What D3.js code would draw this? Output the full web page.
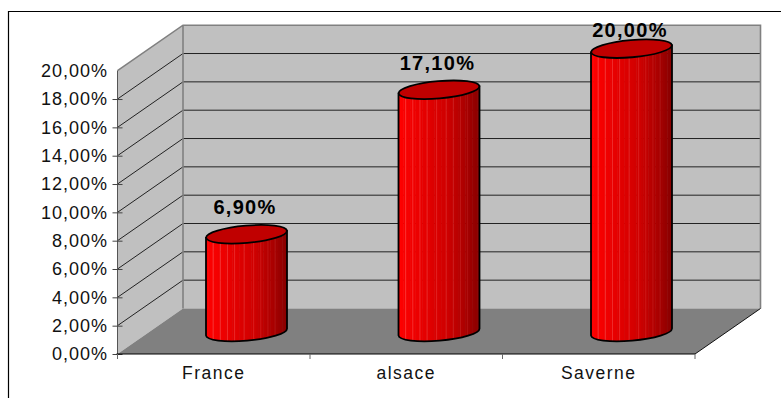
<!DOCTYPE html>
<html>
<head>
<meta charset="utf-8">
<script src="https://cdn.jsdelivr.net/npm/d3@7/dist/d3.min.js"></script>
<style>
  html, body { margin: 0; padding: 0; background: #fff; }
  svg { display: block; }
  text { font-family: "Liberation Sans", Arial, sans-serif; fill: #111; }
</style>
</head>
<body>
<svg id="chart" width="781" height="398"></svg>
<script>
const categories = ["France", "alsace", "Saverne"];
const percentages = [6.9, 17.1, 20];
const axisTicks = [0, 2, 4, 6, 8, 10, 12, 14, 16, 18, 20];

const svg = d3.select("#chart");
const frontLeft = 117.5, frontRight = 695, frontBottom = 354, frontTop = 70.7;
const depth = { x: 65.5, y: -45.5 };      // offset of the back wall from the front plane
const barPlane = { x: 32.75, y: -22 };    // offset of the cylinder axes
const radiusX = 40.5, radiusY = 8.6, tilt = -5;
const labelCeiling = 37;                  // data labels stay inside the plot top

const x = d3.scaleBand().domain(categories).range([frontLeft, frontRight]);
const y = d3.scaleLinear().domain([0, 20]).range([frontBottom, frontTop]);

const decimal = d3.formatLocale({ decimal: ",", thousands: " ", grouping: [3], currency: ["", ""] });
const pct = v => decimal.format(".2f")(v) + "%";
const pts = a => a.map(p => p.join(",")).join(" ");

// Chart frame: only the top and left rules are visible
svg.append("path").attr("d", "M8.5,398V11.5H781").attr("fill", "none").attr("stroke", "#000").attr("stroke-width", 1.2);

// Walls and floor
const backBottom = frontBottom + depth.y, backTop = frontTop + depth.y;
const backLeft = frontLeft + depth.x, backRight = frontRight + depth.x;
svg.append("polygon").attr("fill", "#c0c0c0")
  .attr("points", pts([[frontLeft, frontBottom], [frontLeft, frontTop], [backLeft, backTop], [backLeft, backBottom]]));
svg.append("rect").attr("fill", "#c0c0c0")
  .attr("x", backLeft).attr("y", backTop).attr("width", backRight - backLeft).attr("height", backBottom - backTop);
svg.append("polygon").attr("fill", "#808080")
  .attr("points", pts([[frontLeft, frontBottom], [backLeft, backBottom], [backRight, backBottom], [frontRight, frontBottom]]));

// Gridlines across the side and back walls
const grid = svg.append("g").attr("fill", "none").attr("stroke", "#222").attr("stroke-width", 1);
grid.selectAll("path").data(axisTicks.filter(t => t > 0 && t < 20)).join("path")
  .attr("d", t => `M${frontLeft},${y(t)}L${backLeft},${y(t) + depth.y}H${backRight}`);

// Wall outlines
svg.append("path").attr("fill", "none").attr("stroke", "#808080").attr("stroke-width", 1.6)
  .attr("d", `M${frontLeft},${frontTop}L${backLeft},${backTop}H${backRight}V${backBottom}M${backLeft},${backTop}V${backBottom}`);
svg.append("line").attr("stroke", "#111").attr("stroke-width", 1)
  .attr("x1", frontRight).attr("y1", frontBottom).attr("x2", backRight).attr("y2", backBottom);
svg.append("line").attr("stroke", "#555").attr("stroke-width", 1)
  .attr("x1", frontLeft).attr("y1", frontBottom).attr("x2", frontLeft).attr("y2", frontTop);

// Value axis
const yAxis = svg.append("g").attr("transform", `translate(${frontLeft},0)`)
  .call(d3.axisLeft(y).tickValues(axisTicks).tickFormat(pct).tickSize(5).tickPadding(4.5));
yAxis.select(".domain").remove();
yAxis.selectAll(".tick line").attr("x2", -5).attr("x1", 5).attr("stroke", "#444");
yAxis.selectAll(".tick").filter(d => d === 20).select("line").remove();
yAxis.selectAll("text")
  .attr("font-size", 18).attr("letter-spacing", 1).attr("fill", "#111");

// Category axis
const xAxis = svg.append("g").attr("transform", `translate(0,${frontBottom})`)
  .call(d3.axisBottom(x).tickSize(0).tickPadding(13));
xAxis.select(".domain").remove();
xAxis.selectAll("text")
  .attr("font-size", 17.5).attr("letter-spacing", 1.5).attr("fill", "#111");
svg.append("line").attr("stroke", "#000").attr("stroke-width", 1.2)
  .attr("x1", frontLeft - 1).attr("x2", frontRight).attr("y1", frontBottom).attr("y2", frontBottom);
svg.append("g").selectAll("line")
  .data([...categories.map(c => x(c)), frontRight]).join("line")
  .attr("stroke", "#666")
  .attr("x1", d => d).attr("x2", d => d).attr("y1", frontBottom).attr("y2", frontBottom + 5);

// Cylinders
const shade = d3.scaleLinear()
  .domain([0, 0.3, 0.6, 0.85, 1])
  .range(["#ff0000", "#e60000", "#cf0000", "#a80000", "#8a0000"]);
const stripCount = 34;
const highlights = [3, 6, 9, 12, 16, 20, 23, 26, 29];
const defs = svg.append("defs");
const tiltRad = tilt * Math.PI / 180;
const edgeRise = radiusX * Math.sin(-tiltRad);

const bars = svg.append("g").selectAll("g").data(categories).join("g");
bars.each(function (c, i) {
  const g = d3.select(this);
  const cx = x(c) + x.bandwidth() / 2 + barPlane.x;
  const topY = y(percentages[i]) + barPlane.y;
  const baseY = y(0) + barPlane.y;
  const left = cx - radiusX, right = cx + radiusX;
  const body = `M${left},${topY + edgeRise}L${left},${baseY + edgeRise}` +
    `A${radiusX},${radiusY} ${tilt} 0 0 ${right},${baseY - edgeRise}` +
    `L${right},${topY - edgeRise}Z`;
  defs.append("clipPath").attr("id", `cyl${i}`).append("path").attr("d", body);
  const strips = g.append("g").attr("clip-path", `url(#cyl${i})`);
  const sw = (right - left) / stripCount;
  strips.selectAll("rect").data(d3.range(stripCount)).join("rect")
    .attr("x", k => left + k * sw).attr("width", sw + 0.5)
    .attr("y", topY - 12).attr("height", baseY - topY + 30)
    .attr("fill", k => shade(k / (stripCount - 1)));
  strips.selectAll("line").data(highlights).join("line")
    .attr("x1", k => left + k * sw).attr("x2", k => left + k * sw)
    .attr("y1", topY - 12).attr("y2", baseY + 20)
    .attr("stroke", "#ff8a8a").attr("stroke-opacity", k => 0.5 - k * 0.012).attr("stroke-width", 0.8);
  g.append("path").attr("d", body).attr("fill", "none").attr("stroke", "#000").attr("stroke-width", 1.8);
  g.append("ellipse").attr("cx", cx).attr("cy", topY).attr("rx", radiusX).attr("ry", radiusY)
    .attr("transform", `rotate(${tilt} ${cx} ${topY})`)
    .attr("fill", "#c00000").attr("stroke", "#000").attr("stroke-width", 1.8);
  g.append("text").attr("x", cx - 1.5).attr("y", Math.max(topY - 20, labelCeiling)).attr("text-anchor", "middle")
    .attr("font-size", 20).attr("font-weight", "bold").attr("letter-spacing", 1.3).style("fill", "#000")
    .text(pct(percentages[i]));
});
</script>
</body>
</html>
